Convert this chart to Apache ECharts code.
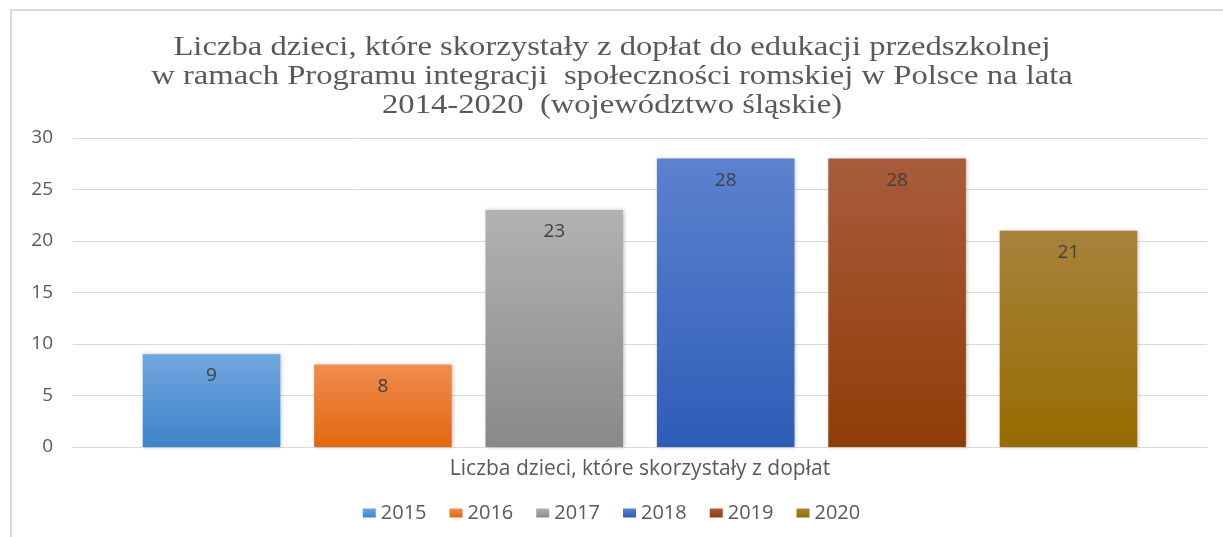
<!DOCTYPE html>
<html>
<head>
<meta charset="utf-8">
<script src="https://cdn.jsdelivr.net/npm/echarts@6/dist/echarts.min.js"></script>
<style>
  html, body { margin: 0; padding: 0; background: #fff; }
  #chart { width: 1223px; height: 537px; }
</style>
</head>
<body>
<div id="chart"></div>
<script>
var titleText = 'Liczba dzieci, które skorzystały z dopłat do edukacji przedszkolnej\nw ramach Programu integracji  społeczności romskiej w Polsce na lata\n2014-2020  (województwo śląskie)'
var categories = ['Liczba dzieci, które skorzystały z dopłat']
var years = ['2015', '2016', '2017', '2018', '2019', '2020']
var values = [9, 8, 23, 28, 28, 21]
var yTicks = [0, 5, 10, 15, 20, 25, 30]
// top / bottom of each bar gradient
var colorsTop = ['#70a6de', '#f28c4e', '#b2b2b2', '#5c82cf', '#a95c3c', '#a8823c']
var colorsBottom = ['#3d85cb', '#e2660f', '#898989', '#2e5db7', '#8f3c06', '#966c00']

var chart = echarts.init(document.getElementById('chart'))

var series = years.map(function (y, i) {
  return {
    name: y,
    type: 'bar',
    data: [values[i]],
    barGap: '24.6%',
    barCategoryGap: '12.3%',
    itemStyle: {
      color: new echarts.graphic.LinearGradient(0, 0, 0, 1, [
        { offset: 0, color: colorsTop[i] },
        { offset: 1, color: colorsBottom[i] }
      ]),
      shadowColor: 'rgba(0,0,0,0.25)',
      shadowBlur: 4,
      shadowOffsetX: 1
    },
    label: {
      show: true,
      position: 'insideTop',
      distance: 12,
      color: '#404040',
      fontSize: 19,
      fontFamily: 'Open Sans'
    }
  }
})

chart.setOption({
  animation: false,
  // title drawn as graphic text so it can be widened like the original
  graphic: [{
    type: 'rect',
    shape: { x: 11, y: 10, width: 1240, height: 560 },
    style: { fill: 'none', stroke: '#d9d9d9', lineWidth: 2 },
    silent: true
  }, {
    type: 'text',
    x: 612,
    y: 33,
    scaleX: 1.21,
    style: {
      text: titleText,
      fill: '#595959',
      font: '27px "Liberation Serif"',
      lineHeight: 29,
      align: 'center',
      verticalAlign: 'top'
    },
    silent: true
  }],
  legend: {
    data: years,
    bottom: 9,
    left: 'center',
    itemWidth: 13,
    itemHeight: 9,
    itemGap: 23,
    icon: 'rect',
    textStyle: { color: '#595959', fontSize: 20, fontFamily: 'Open Sans' }
  },
  grid: { left: 73, right: 16, top: 138, bottom: 90 },
  xAxis: {
    type: 'category',
    data: categories,
    axisLine: { lineStyle: { color: '#d9d9d9', width: 1 } },
    axisTick: { show: false },
    axisLabel: { color: '#595959', fontSize: 21, fontFamily: 'Open Sans', margin: 12 }
  },
  yAxis: {
    type: 'value',
    min: yTicks[0],
    max: yTicks[yTicks.length - 1],
    interval: 5,
    axisLine: { show: false },
    axisTick: { show: false },
    splitLine: { lineStyle: { color: '#d9d9d9', width: 1 } },
    axisLabel: { color: '#595959', fontSize: 19, fontFamily: 'Open Sans', margin: 20 }
  },
  series: series
})
</script>
</body>
</html>
